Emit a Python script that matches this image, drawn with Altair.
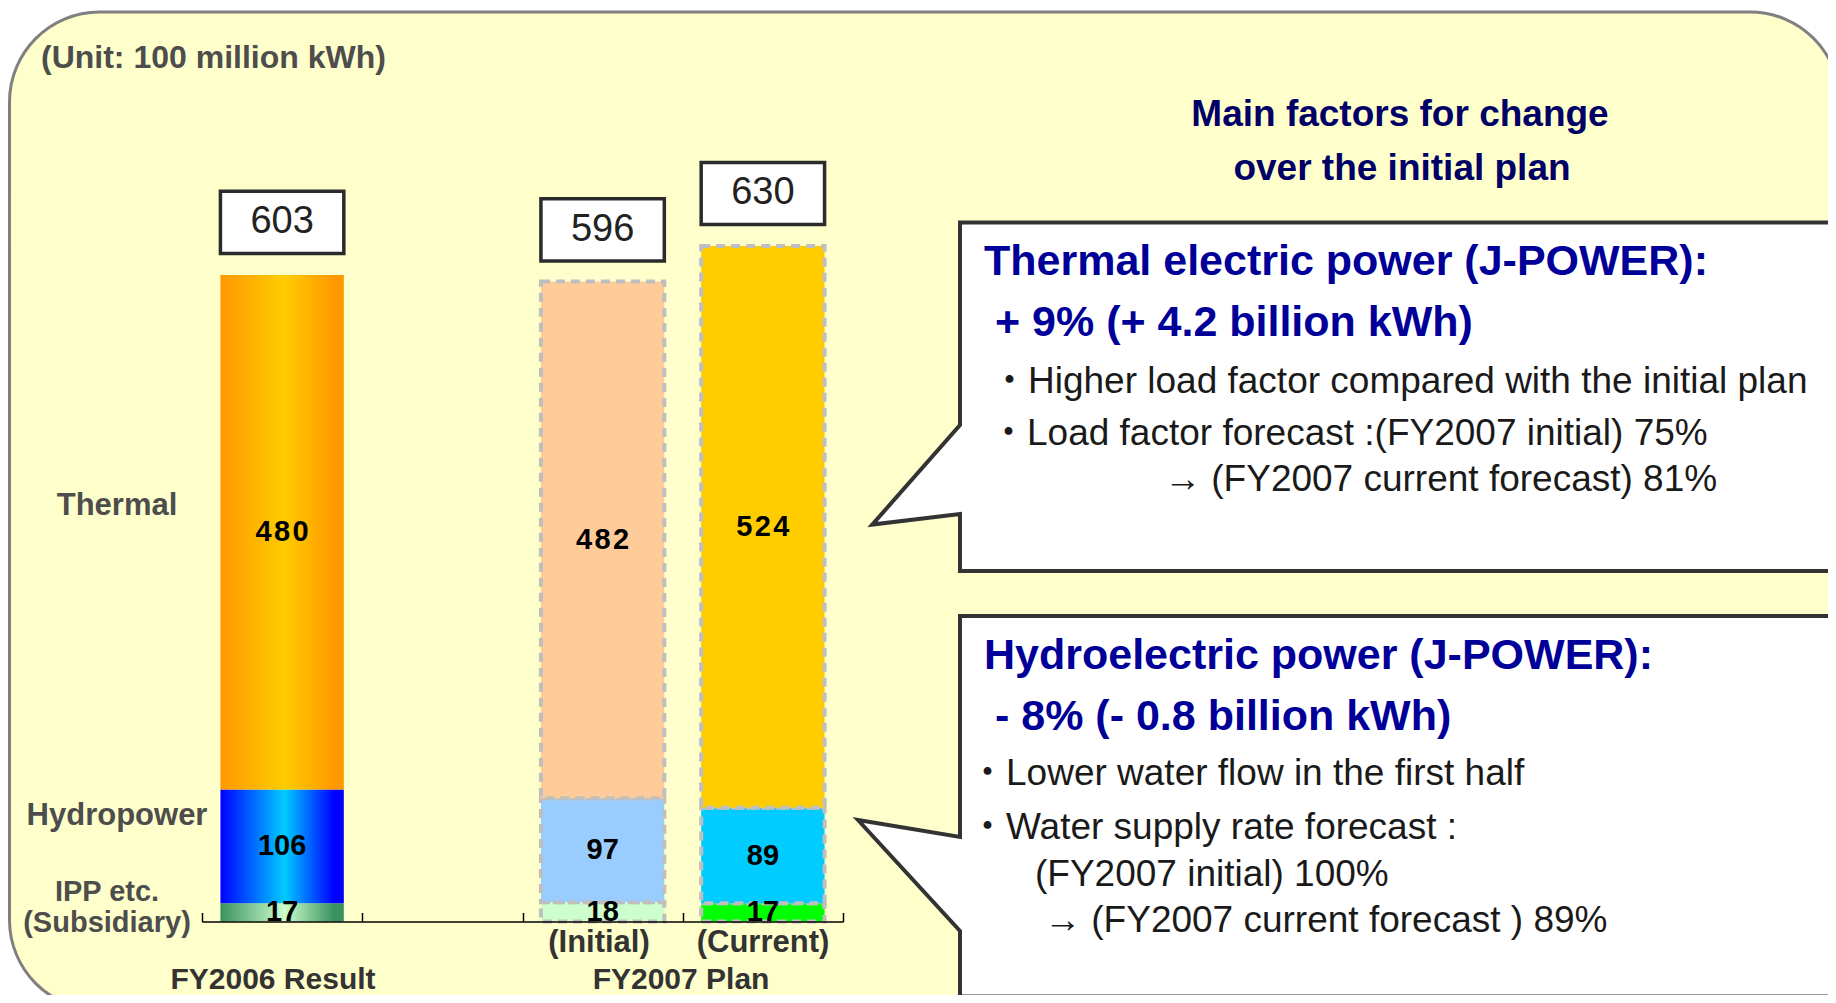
import altair as alt
import pandas as pd

# ---------------- data ----------------
periods = ["FY2006", "Initial", "Current"]
slots = ["FY2006", "gap", "Initial", "Current"]
sources = ["IPP", "Hydro", "Thermal"]
ipp = [17, 18, 17]
hydro = [106, 97, 89]
thermal = [480, 482, 524]
totals = [603, 596, 630]

source_labels = ["Thermal", "Hydropower", "IPP etc.", "(Subsidiary)"]
group_labels = ["FY2006 Result", "FY2007 Plan"]
sub_labels = ["(Initial)", "(Current)"]
unit_label = "(Unit: 100 million kWh)"
heading = ["Main factors for change", "over the initial plan"]
thermal_title = ["Thermal electric power (J-POWER):", "+ 9% (+ 4.2 billion kWh)"]
thermal_notes = ["・Higher load factor compared with the initial plan",
                 "・Load factor forecast :(FY2007 initial) 75%",
                 "→ (FY2007 current forecast) 81%"]
hydro_title = ["Hydroelectric power (J-POWER):", "- 8% (- 0.8 billion kWh)"]
hydro_notes = ["・Lower water flow in the first half",
               "・Water supply rate forecast :",
               "(FY2007 initial) 100%",
               "→ (FY2007 current forecast ) 89%"]

rows = []
for i, p in enumerate(periods):
    base = 0
    for s, v in zip(sources, [ipp[i], hydro[i], thermal[i]]):
        rows.append(dict(period=p, source=s, key=p + "-" + s, value=v, y0=base, y1=base + v))
        base += v
seg = pd.DataFrame(rows)
tot = pd.DataFrame(dict(period=periods, total=totals))

# ---------------- styles ----------------
FONT = "Liberation Sans, Arial, Noto Sans CJK JP"
O = 8  # page margin

xscale = alt.Scale(domain=slots, range=[194, 835], paddingInner=0, paddingOuter=0)
xaxis = alt.Axis(orient="top", offset=-913.5, tickBand="extent", labels=False, title=None,
                 grid=False, domainColor="black", domainWidth=1.5, tickColor="black",
                 tickWidth=1.5, tickSize=9, zindex=1)
yscale = alt.Scale(domain=[0, 852], range=[913.5, 0], nice=False, zero=False)
xenc = alt.X("period:N", scale=xscale, axis=xaxis)
BW = alt.RelativeBandSize(0.77)


def grad(c1, c2):
    return alt.LinearGradient(
        gradient="linear", x1=0, x2=1, y1=0, y2=0,
        stops=[alt.GradientStop(color=c1, offset=0),
               alt.GradientStop(color=c2, offset=0.52),
               alt.GradientStop(color=c1, offset=0.92),
               alt.GradientStop(color=c1, offset=1)])


dummy = alt.Data(values=[{}])


def label(text, x, y, size, color, weight="bold", align="left"):
    return alt.Chart(dummy).mark_text(
        text=text, font=FONT, fontSize=size, fontWeight=weight, color=color,
        align=align, baseline="middle"
    ).encode(x=alt.value(x - O), y=alt.value(y - O))


layers = []

# background rounded panel
layers.append(alt.Chart(dummy).mark_rect(
    fill="#FFFFCC", stroke="#808080", strokeWidth=3, cornerRadius=90
).encode(x=alt.value(1.5), x2=alt.value(1832), y=alt.value(4), y2=alt.value(1002)))

# callout shapes (rectangle with pointer), drawn as custom symbols in pixel units
callout1 = "M0,0L87.7,-99.6L87.7,-302L990,-302L990,46.4L87.7,46.4L87.7,-10.6Z"
callout2 = "M0,0L102,17L102,-204L990,-204L990,176.5L102,176.5L102,111Z"
for path, tx, ty in [(callout1, 872.3, 524.6), (callout2, 858, 820)]:
    layers.append(alt.Chart(dummy).mark_point(
        shape=path, size=4, filled=True, fill="white", stroke="#333333",
        strokeWidth=4, opacity=1, strokeJoin="miter"
    ).encode(x=alt.value(tx - O), y=alt.value(ty - O)))

# FY2006 bar (gradient segments)
grads = {"Thermal": grad("#FF9900", "#FFCC00"),
         "Hydro": grad("#0000FF", "#00CCFF"),
         "IPP": grad("#3A9160", "#CCFFCC")}
for s in sources:
    layers.append(alt.Chart(seg).transform_filter(
        f"datum.period == 'FY2006' && datum.source == '{s}'"
    ).mark_bar(width=BW, color=grads[s]).encode(
        x=xenc, y=alt.Y("y0:Q", scale=yscale, axis=None), y2="y1:Q"))

# FY2007 plan bars (flat, dashed border)
keys = ["Initial-IPP", "Initial-Hydro", "Initial-Thermal",
        "Current-IPP", "Current-Hydro", "Current-Thermal"]
cols = ["#CCFFCC", "#99CCFF", "#FFCC99", "#00FF00", "#00CCFF", "#FFCC00"]
layers.append(alt.Chart(seg).transform_filter("datum.period != 'FY2006'").mark_bar(
    width=BW, stroke="#BFBFBF", strokeWidth=4, strokeDash=[9, 6]
).encode(x=xenc, y=alt.Y("y0:Q", scale=yscale, axis=None), y2="y1:Q",
         fill=alt.Fill("key:N", scale=alt.Scale(domain=keys, range=cols), legend=None)))

# segment value labels (thermal values are slightly letter-spaced in the original)
layers.append(alt.Chart(seg).transform_calculate(
    mid="(datum.y0 + datum.y1) / 2",
    txt="datum.source == 'Thermal' ? join(split(toString(datum.value), ''), '\u200a') : toString(datum.value)"
).mark_text(
    font=FONT, fontSize=29, fontWeight="bold", color="black", baseline="middle"
).encode(x=xenc, y=alt.Y("mid:Q", scale=yscale, axis=None), text="txt:N"))

# total boxes
totc = alt.Chart(tot).transform_calculate(
    lo="datum.total + 20", hi="datum.total + 78", mid="datum.total + 49")
layers.append(totc.mark_bar(width=BW, fill="white", stroke="#2B2B2B", strokeWidth=3.5).encode(
    x=xenc, y=alt.Y("lo:Q", scale=yscale, axis=None), y2="hi:Q"))
layers.append(totc.mark_text(font=FONT, fontSize=38, color="#222222", baseline="middle").encode(
    x=xenc, y=alt.Y("mid:Q", scale=yscale, axis=None), text="total:Q"))

# left / bottom labels
GRAY = "#4D4D4D"
layers.append(label(unit_label, 41, 58, 32, GRAY))
layers.append(label(source_labels[0], 117, 506, 31, GRAY, align="center"))
layers.append(label(source_labels[1], 117, 816, 31, GRAY, align="center"))
layers.append(label(source_labels[2], 107, 892, 29, GRAY, align="center"))
layers.append(label(source_labels[3], 107, 923, 29, GRAY, align="center"))
layers.append(label(sub_labels[0], 599, 943, 31, "#333333", align="center"))
layers.append(label(sub_labels[1], 763, 943, 31, "#333333", align="center"))
layers.append(label(group_labels[0], 273, 980, 30, "#333333", align="center"))
layers.append(label(group_labels[1], 681, 980, 30, "#333333", align="center"))

# right side texts
NAVY = "#000066"
BLUE = "#000099"
TXT = "#1A1A1A"
layers.append(label(heading[0], 1400, 115, 37, NAVY, align="center"))
layers.append(label(heading[1], 1402, 169, 37, NAVY, align="center"))
layers.append(label(thermal_title[0], 984, 262, 43, BLUE))
layers.append(label(thermal_title[1], 995, 323, 43, BLUE))
layers.append(label(thermal_notes[0], 991, 382, 37, TXT, weight="normal"))
layers.append(label(thermal_notes[1], 990, 434, 37, TXT, weight="normal"))
layers.append(label(thermal_notes[2], 1164, 480, 37, TXT, weight="normal"))
layers.append(label(hydro_title[0], 984, 656, 43, BLUE))
layers.append(label(hydro_title[1], 995, 717, 43, BLUE))
layers.append(label(hydro_notes[0], 969, 774, 37, TXT, weight="normal"))
layers.append(label(hydro_notes[1], 969, 828, 37, TXT, weight="normal"))
layers.append(label(hydro_notes[2], 1035, 875, 37, TXT, weight="normal"))
layers.append(label(hydro_notes[3], 1044, 921, 37, TXT, weight="normal"))

chart = alt.layer(*layers).properties(
    width=1820, height=987, padding=0, autosize=alt.AutoSizeParams(type="none")
).configure_view(stroke=None)

chart.save("out.html", embed_options={"renderer": "svg", "actions": False})
